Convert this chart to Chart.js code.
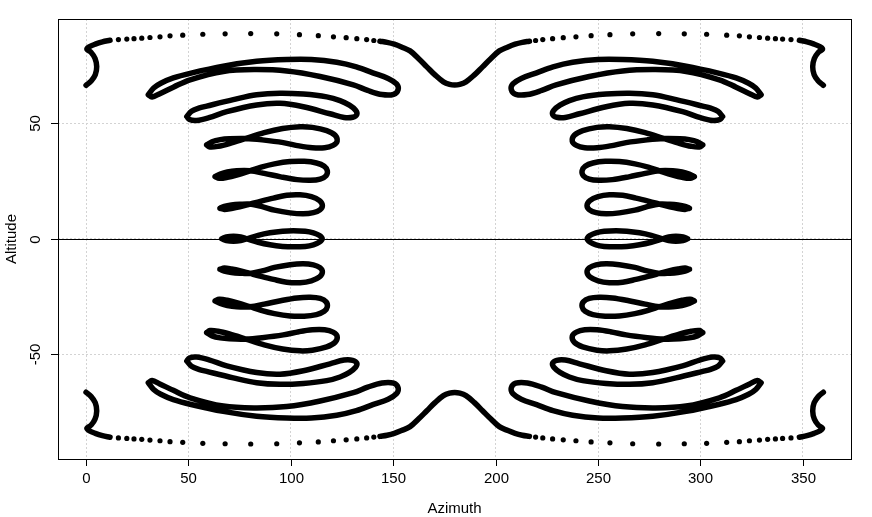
<!DOCTYPE html>
<html>
<head>
<meta charset="utf-8">
<script src="https://cdn.jsdelivr.net/npm/chart.js@4.4.1/dist/chart.umd.min.js"></script>
<style>
  html, body { margin: 0; padding: 0; background: #fff; }
  #wrap { width: 872px; height: 517px; }
</style>
</head>
<body>
<div id="wrap"><canvas id="chart" width="872" height="517"></canvas></div>
<script>
// tick values
const X_TICKS = [0, 50, 100, 150, 200, 250, 300, 350];
const Y_TICKS = [-50, 0, 50];

// loop near altitude 70 (west and east azimuths, north/south altitudes)
const X_W70 = [30.4,33,36.5,42.6,50.8,67,83.3,98,110,122.4,132,140,147.5,151.6,152.4,150.2,144.5,137.5,130.5,114.3,98,82,67,50.8,42.6,36,32.2,30.4];
const X_E70 = [329.6,327,323.5,317.4,309.2,293,276.7,262,250,237.6,228,220,212.5,208.4,207.6,209.8,215.5,222.5,229.5,245.7,262,278,293,309.2,317.4,324,327.8,329.6];
const Y_N70 = [62.3,65.2,67.3,69.6,71.6,74.7,76.8,77.6,77.6,76.4,74.4,71.8,69.4,67,64.6,62.5,62.4,64.2,66.6,70.2,72.6,73.2,72.4,68.8,65.6,62.8,61.3,62.3];
const Y_S70 = [-62.3,-65.2,-67.3,-69.6,-71.6,-74.7,-76.8,-77.6,-77.6,-76.4,-74.4,-71.8,-69.4,-67,-64.6,-62.5,-62.4,-64.2,-66.6,-70.2,-72.6,-73.2,-72.4,-68.8,-65.6,-62.8,-61.3,-62.3];

// loop near 57
const X_W57 = [49.2,51.5,55,58.9,71.9,83.3,94.7,106.1,117.5,124,128.6,131.6,132.2,130.2,126,119.1,106.1,94.7,83.3,68.7,60,54,50.5,49.2];
const X_E57 = [310.8,308.5,305,301.1,288.1,276.7,265.3,253.9,242.5,236,231.4,228.4,227.8,229.8,234,240.9,253.9,265.3,276.7,291.3,300,306,309.5,310.8];
const Y_N57 = [52.9,55.2,56.5,57.4,60.2,62.3,63,62.6,61.4,59.8,57.8,55.6,53.8,52.6,52.5,54.1,57.1,58.6,57.9,55,52.4,51.2,51.6,52.9];
const Y_S57 = [-52.9,-55.2,-56.5,-57.4,-60.2,-62.3,-63,-62.6,-61.4,-59.8,-57.8,-55.6,-53.8,-52.6,-52.5,-54.1,-57.1,-58.6,-57.9,-55,-52.4,-51.2,-51.6,-52.9];

// loop near 43
const X_W43 = [58.9,61.5,65.5,70,78,86,96.3,104,110.5,116.5,120.6,122.6,121.6,117.5,110.5,104.5,96,87,78,70,64.5,60.5,58.9];
const X_E43 = [301.1,298.5,294.5,290,282,274,263.7,256,249.5,243.5,239.4,237.4,238.4,242.5,249.5,255.5,264,273,282,290,295.5,299.5,301.1];
const Y_N43 = [40.6,42,42.9,43.3,43.4,42.8,41.6,40.2,39.4,39.4,40.4,42.2,44.8,46.8,48.2,48.5,47.7,45.9,43.4,41.2,40,39.7,40.6];
const Y_S43 = [-40.6,-42,-42.9,-43.3,-43.4,-42.8,-41.6,-40.2,-39.4,-39.4,-40.4,-42.2,-44.8,-46.8,-48.2,-48.5,-47.7,-45.9,-43.4,-41.2,-40,-39.7,-40.6];

// loop near 29
const X_W29 = [63,65.5,69,73.5,80,87,95,103,109.5,114.3,117.2,117.8,116.3,112.5,106.5,99.6,92,85.5,80,73.5,69,65,63];
const X_E29 = [297,294.5,291,286.5,280,273,265,257,250.5,245.7,242.8,242.2,243.7,247.5,253.5,260.4,268,274.5,280,286.5,291,295,297];
const Y_N29 = [26.9,28,28.9,29.4,29.4,28.3,26.8,25.6,25.3,25.8,27.3,29.4,31.4,32.8,33.5,33.4,32.4,31,29.4,27.6,26.6,26.2,26.9];
const Y_S29 = [-26.9,-28,-28.9,-29.4,-29.4,-28.3,-26.8,-25.6,-25.3,-25.8,-27.3,-29.4,-31.4,-32.8,-33.5,-33.4,-32.4,-31,-29.4,-27.6,-26.6,-26.2,-26.9];

// loop near 14
const X_W14 = [65.4,67.5,71,75,80,86,92,99.6,106,111,114.2,115.4,114,110,104.5,98,91.5,85.5,80,75,71,67.5,65.4];
const X_E14 = [294.6,292.5,289,285,280,274,268,260.4,254,249,245.8,244.6,246,250,255.5,262,268.5,274.5,280,285,289,292.5,294.6];
const Y_N14 = [13.2,14,14.6,14.9,15,13.9,12.4,11.2,10.8,11.3,12.5,14.3,16.5,18.2,19,18.8,17.6,16.3,15,13.8,13.1,12.7,13.2];
const Y_S14 = [-13.2,-14,-14.6,-14.9,-15,-13.9,-12.4,-11.2,-10.8,-11.3,-12.5,-14.3,-16.5,-18.2,-19,-18.8,-17.6,-16.3,-15,-13.8,-13.1,-12.7,-13.2];

// loop on the horizon
const X_W0 = [66.3,68.5,72,75.5,78.5,84,89.8,96,101.2,107,111,114,115.3,114,111,107,101.2,96,89.8,84,78.5,75.5,72,68.5,66.3];
const X_E0 = [293.7,291.5,288,284.5,281.5,276,270.2,264,258.8,253,249,246,244.7,246,249,253,258.8,264,270.2,276,281.5,284.5,288,291.5,293.7];
const Y_0 = [0,0.8,1.1,0.8,0,-1.5,-2.6,-3.3,-3.5,-3.3,-2.6,-1.4,0,1.4,2.6,3.3,3.5,3.3,2.6,1.5,0,-0.8,-1.1,-0.8,0];

// outer curve: hooks at the edges, sparse dots along the top/bottom, dip at 180
const X_HOOK_W = [0,2.5,4.5,5.2,4.4,2.5,0.4,1.5,4.5,8,11.7];
const X_HOOK_E = [360,357.5,355.5,354.8,355.6,357.5,359.6,358.5,355.5,352,348.3];
const Y_HOOK_N = [66.4,68.3,71,74.5,78,80.6,82,83,84.2,85.2,85.9];
const Y_HOOK_S = [-66.4,-68.3,-71,-74.5,-78,-80.6,-82,-83,-84.2,-85.2,-85.9];

const X_DOTS_W = [15.8,19.9,23.4,27.2,31.2,36.1,41,47.2,57,67.9,80.4,93.1,104.2,113.4,120.8,127,132.2,137,140.5];
const X_DOTS_E = [344.2,340.1,336.6,332.8,328.8,323.9,319,312.8,303,292.1,279.6,266.9,255.8,246.6,239.2,233,227.8,223,219.5];
const Y_DOTS_N = [86.2,86.4,86.6,86.8,87.1,87.4,87.8,88.1,88.5,88.7,88.8,88.7,88.3,87.9,87.4,87,86.6,86.2,85.8];
const Y_DOTS_S = [-86.2,-86.4,-86.6,-86.8,-87.1,-87.4,-87.8,-88.1,-88.5,-88.7,-88.8,-88.7,-88.3,-87.9,-87.4,-87,-86.6,-86.2,-85.8];

const X_DIP = [143.5,147,150.5,154,158.2,162.3,166.4,170.5,174.5,177.5,180,182.5,185.5,189.5,193.6,197.7,201.8,206,209.5,213,216.5];
const Y_DIP_N = [85.5,85,84.2,83,81.3,78,74.4,70.8,67.9,66.8,66.5,66.8,67.9,70.8,74.4,78,81.3,83,84.2,85,85.5];
const Y_DIP_S = [-85.5,-85,-84.2,-83,-81.3,-78,-74.4,-70.8,-67.9,-66.8,-66.5,-66.8,-67.9,-70.8,-74.4,-78,-81.3,-83,-84.2,-85,-85.5];

function pts(xs, ys) {
    return xs.map((x, i) => ({ x: x, y: ys[i] }));
}

const lineSets = [
    [X_W70, Y_N70], [X_E70, Y_N70], [X_W70, Y_S70], [X_E70, Y_S70],
    [X_W57, Y_N57], [X_E57, Y_N57], [X_W57, Y_S57], [X_E57, Y_S57],
    [X_W43, Y_N43], [X_E43, Y_N43], [X_W43, Y_S43], [X_E43, Y_S43],
    [X_W29, Y_N29], [X_E29, Y_N29], [X_W29, Y_S29], [X_E29, Y_S29],
    [X_W14, Y_N14], [X_E14, Y_N14], [X_W14, Y_S14], [X_E14, Y_S14],
    [X_W0, Y_0], [X_E0, Y_0],
    [X_HOOK_W, Y_HOOK_N], [X_HOOK_E, Y_HOOK_N], [X_HOOK_W, Y_HOOK_S], [X_HOOK_E, Y_HOOK_S],
    [X_DIP, Y_DIP_N], [X_DIP, Y_DIP_S]
];
const dotSets = [
    [X_DOTS_W, Y_DOTS_N], [X_DOTS_E, Y_DOTS_N], [X_DOTS_W, Y_DOTS_S], [X_DOTS_E, Y_DOTS_S]
];

const datasets = [];
lineSets.forEach(([xs, ys]) => datasets.push({
    data: pts(xs, ys), showLine: true, pointRadius: 0, borderColor: '#000', borderWidth: 5.5,
    tension: 0.35, borderCapStyle: 'round', borderJoinStyle: 'round', fill: false
}));
dotSets.forEach(([xs, ys]) => datasets.push({
    data: pts(xs, ys), showLine: false, pointRadius: 2.6, backgroundColor: '#000', borderWidth: 0
}));

const FONT = '15px "Liberation Sans", Arial, sans-serif';

// R-style box, ticks, labels and the zero line
const rAxes = {
    id: 'rAxes',
    afterDatasetsDraw(chart) {
        const { ctx, chartArea: a, scales: { x, y } } = chart;
        ctx.save();
        ctx.strokeStyle = '#000';
        ctx.lineWidth = 1;
        const y0 = Math.round(y.getPixelForValue(0)) + 0.5;
        ctx.beginPath(); ctx.moveTo(a.left, y0); ctx.lineTo(a.right, y0); ctx.stroke();
        ctx.strokeRect(Math.round(a.left) + 0.5, Math.round(a.top) + 0.5, Math.round(a.right - a.left), Math.round(a.bottom - a.top));

        ctx.fillStyle = '#000';
        ctx.font = FONT;
        ctx.textAlign = 'center';
        ctx.textBaseline = 'middle';
        X_TICKS.forEach(v => {
            const px = Math.round(x.getPixelForValue(v)) + 0.5;
            ctx.beginPath(); ctx.moveTo(px, a.bottom); ctx.lineTo(px, a.bottom + 7); ctx.stroke();
            ctx.fillText(String(v), px, a.bottom + 20);
        });
        Y_TICKS.forEach(v => {
            const py = Math.round(y.getPixelForValue(v)) + 0.5;
            ctx.beginPath(); ctx.moveTo(a.left, py); ctx.lineTo(a.left - 7, py); ctx.stroke();
            ctx.save();
            ctx.translate(a.left - 22, py);
            ctx.rotate(-Math.PI / 2);
            ctx.fillText(String(v), 0, 0);
            ctx.restore();
        });
        ctx.fillText('Azimuth', (a.left + a.right) / 2, a.bottom + 50);
        ctx.save();
        ctx.translate(12, (a.top + a.bottom) / 2);
        ctx.rotate(-Math.PI / 2);
        ctx.fillText('Altitude', 0, 0);
        ctx.restore();
        ctx.restore();
    }
};

new Chart(document.getElementById('chart'), {
    type: 'scatter',
    data: { datasets },
    options: {
        responsive: false,
        devicePixelRatio: 1,
        animation: false,
        layout: { padding: { left: 58, right: 21, top: 19, bottom: 58 } },
        plugins: { legend: { display: false }, tooltip: { enabled: false } },
        scales: {
            x: {
                type: 'linear', min: -13.7, max: 373.5,
                afterBuildTicks: s => { s.ticks = X_TICKS.map(v => ({ value: v })); },
                ticks: { display: false },
                grid: { color: '#d3d3d3', drawTicks: false, lineWidth: 1 },
                border: { display: false, dash: [2, 2] }
            },
            y: {
                type: 'linear', min: -95.3, max: 95.1,
                afterBuildTicks: s => { s.ticks = Y_TICKS.map(v => ({ value: v })); },
                ticks: { display: false },
                grid: { color: '#d3d3d3', drawTicks: false, lineWidth: 1 },
                border: { display: false, dash: [2, 2] }
            }
        }
    },
    plugins: [rAxes]
});
</script>
</body>
</html>
